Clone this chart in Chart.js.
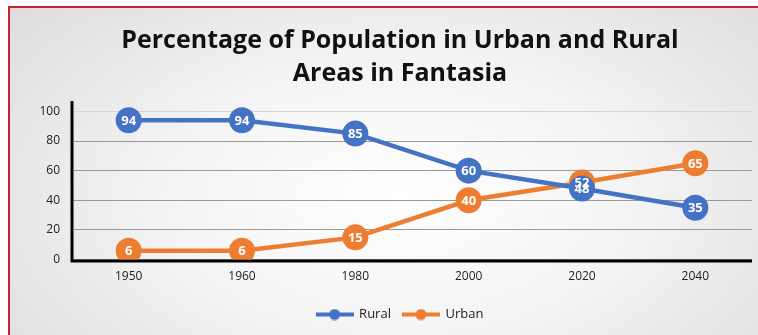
<!DOCTYPE html>
<html>
<head>
<meta charset="utf-8">
<script src="https://cdn.jsdelivr.net/npm/chart.js@4"></script>
<style>
  html, body { margin: 0; padding: 0; width: 758px; height: 335px; overflow: hidden; background: #fff; }
  #frame {
    position: absolute; left: 8px; top: 6px; width: 800px; height: 400px;
    border: 2px solid #c7232b;
    background: radial-gradient(ellipse 520px 300px at 390px 190px, #ffffff 0%, #f4f4f4 45%, #dcdcdc 100%);
  }
  #wrap { position: absolute; left: 0; top: 0; width: 758px; height: 335px; }
</style>
</head>
<body>
<div id="frame"></div>
<div id="wrap"><canvas id="chart"></canvas></div>
<script>
const years = ['1950', '1960', '1980', '2000', '2020', '2040'];
const rural = [94, 94, 85, 60, 48, 35];
const urban = [6, 6, 15, 40, 52, 65];
const yTicks = [0, 20, 40, 60, 80, 100];

const BLUE = '#4472c4';
const ORANGE = '#ed7d31';

// legend marker: short line with a dot in the middle
function legendMarker(color) {
    const c = document.createElement('canvas');
    c.width = 38; c.height = 12;
    const g = c.getContext('2d');
    g.strokeStyle = color;
    g.lineWidth = 4;
    g.beginPath();
    g.moveTo(0, 6);
    g.lineTo(38, 6);
    g.stroke();
    g.fillStyle = color;
    g.beginPath();
    g.arc(19, 6, 5.5, 0, Math.PI * 2);
    g.fill();
    return c;
}
const markers = [legendMarker(BLUE), legendMarker(ORANGE)];

// white value text centred on every point
const valueLabels = {
    id: 'valueLabels',
    afterDatasetsDraw(chart) {
        const ctx = chart.ctx;
        ctx.save();
        ctx.font = 'bold 13px "Open Sans"';
        ctx.fillStyle = '#ffffff';
        ctx.textAlign = 'center';
        ctx.textBaseline = 'middle';
        chart.data.datasets.forEach((ds, i) => {
            chart.getDatasetMeta(i).data.forEach((pt, j) => {
                ctx.fillText(ds.data[j], pt.x, pt.y + 1);
            });
        });
        ctx.restore();
    }
};

// black axis lines plus the y tick numbers (the y box is narrow so the
// numbers hang out to its left)
const axisLines = {
    id: 'axisLines',
    beforeDatasetsDraw(chart) {
        const a = chart.chartArea;
        const y = chart.scales.y;
        const ctx = chart.ctx;
        ctx.save();
        ctx.strokeStyle = '#000';
        ctx.lineWidth = 3;
        ctx.beginPath();
        ctx.moveTo(a.left, a.top);
        ctx.lineTo(a.left, a.bottom + 1.5);
        ctx.lineTo(a.right, a.bottom + 1.5);
        ctx.stroke();

        ctx.font = '12px "Open Sans"';
        ctx.fillStyle = '#222';
        ctx.textAlign = 'right';
        ctx.textBaseline = 'middle';
        yTicks.forEach(v => ctx.fillText(String(v), a.left - 12, y.getPixelForValue(v)));
        ctx.restore();
    }
};

new Chart(document.getElementById('chart'), {
    type: 'line',
    data: {
        labels: years,
        datasets: [
            {
                label: 'Rural',
                data: rural,
                borderColor: BLUE,
                backgroundColor: BLUE,
                borderWidth: 4.5,
                pointRadius: 13,
                pointHoverRadius: 13,
                pointBorderWidth: 0,
                pointStyle: 'circle'
            },
            {
                label: 'Urban',
                data: urban,
                borderColor: ORANGE,
                backgroundColor: ORANGE,
                borderWidth: 4.5,
                pointRadius: 13,
                pointHoverRadius: 13,
                pointBorderWidth: 0,
                pointStyle: 'circle'
            }
        ]
    },
    options: {
        responsive: true,
        maintainAspectRatio: false,
        animation: false,
        layout: { autoPadding: false, padding: { left: 48, right: 6, top: 8, bottom: 4 } },
        plugins: {
            title: {
                display: true,
                text: ['Percentage of Population in Urban and Rural', 'Areas in Fantasia'],
                color: '#111',
                font: { family: '"Open Sans"', size: 25, weight: 'bold', lineHeight: 1.3 },
                padding: { top: 17, bottom: 11 }
            },
            legend: {
                position: 'bottom',
                labels: {
                    usePointStyle: true,
                    pointStyleWidth: 36,
                    color: '#222',
                    font: { family: '"Open Sans"', size: 13 },
                    padding: 12,
                    generateLabels(chart) {
                        return Chart.defaults.plugins.legend.labels.generateLabels(chart).map((item, i) => {
                            item.pointStyle = markers[i];
                            return item;
                        });
                    }
                }
            },
            tooltip: { enabled: false }
        },
        scales: {
            x: {
                offset: true,
                grid: { display: false },
                border: { display: false },
                ticks: { color: '#222', font: { family: '"Open Sans"', size: 12 }, padding: 2 },
                afterFit(axis) { axis.height += 10; }
            },
            y: {
                min: 0,
                max: 107,
                afterBuildTicks(axis) { axis.ticks = yTicks.map(v => ({ value: v })); },
                afterFit(axis) { axis.width = 24; },
                grid: {
                    color: ctx => ctx.tick && ctx.tick.value === 100 ? '#d6d6d6' : '#9a9a9a',
                    lineWidth: 1,
                    drawTicks: false
                },
                border: { display: false },
                ticks: { display: false }
            }
        }
    },
    plugins: [valueLabels, axisLines]
});
</script>
</body>
</html>
